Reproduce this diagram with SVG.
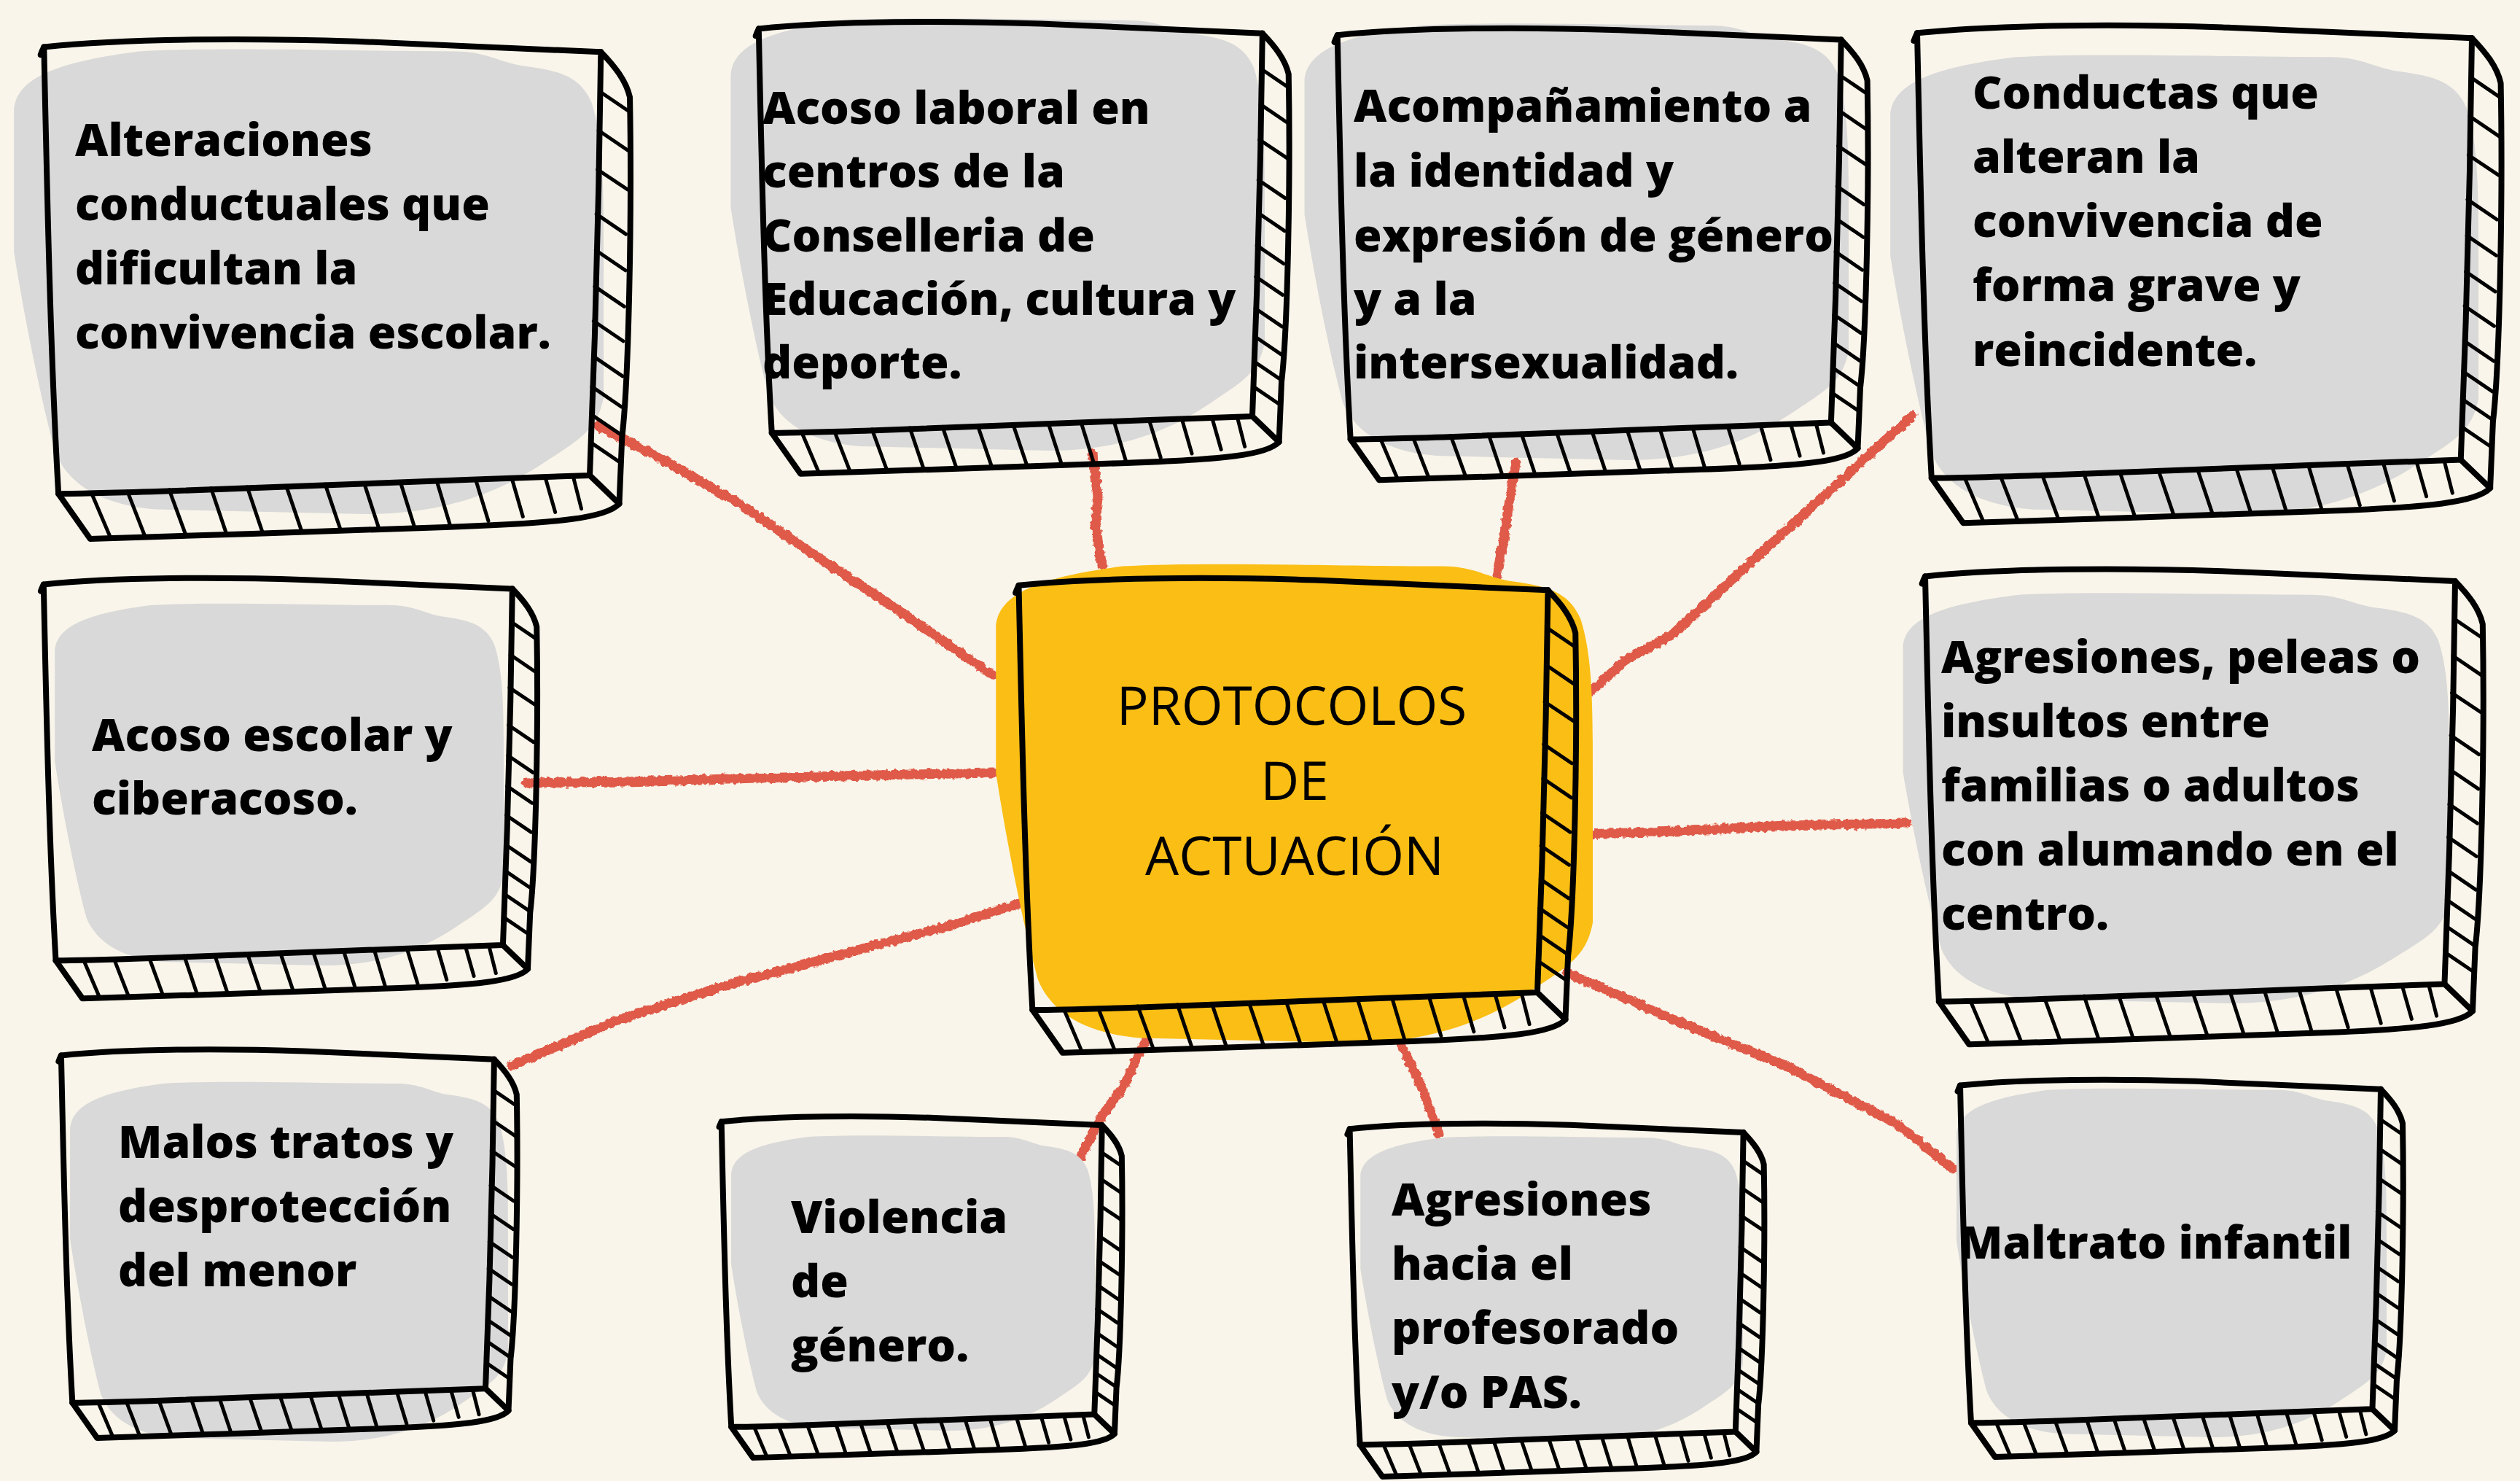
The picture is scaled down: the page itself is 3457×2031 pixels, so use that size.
<svg xmlns="http://www.w3.org/2000/svg" width="3457" height="2031" viewBox="0 0 3457 2031">
<style>
.bg{fill:#F9F5EA}
.blob{fill:#D9D9D9}
.blob-y{fill:#FBBE14}
.ol{fill:none;stroke:#000;stroke-width:8;stroke-linecap:round;stroke-linejoin:round;vector-effect:non-scaling-stroke}
.ht{fill:none;stroke:#000;stroke-width:5;stroke-linecap:round;vector-effect:non-scaling-stroke}
.lbl{font-family:"Open Sans","Noto Sans","DejaVu Sans",sans-serif;font-weight:800;font-size:62.5px;fill:#000}
.ctr{font-family:"Open Sans","Noto Sans","DejaVu Sans",sans-serif;font-weight:400;font-size:73px;fill:#000;text-anchor:middle}
.conn{fill:none;stroke:#E05A48;stroke-width:13;stroke-linecap:round;stroke-linejoin:round}
</style>
<defs>
<filter id="rough" x="-5%" y="-5%" width="110%" height="110%">
<feTurbulence type="fractalNoise" baseFrequency="0.16" numOctaves="2" seed="4" result="n"/>
<feDisplacementMap in="SourceGraphic" in2="n" scale="7" xChannelSelector="R" yChannelSelector="G"/>
</filter>
<path id="blobShape" d="M1,14 C1,6 10,3 22,1 C35,0 60,1 75,1 C80,1 82,3 86,4 C92,5 96,6 98,12 C100,20 100,30 100,45 L100,75 C99,82 96,84 90,89 C84,94 75,100 60,100 L25,99 C15,98 10,93 8,87 C6,78 3,60 1,44 Z"/>
<g id="box">
<path class="ol" d="M0,0 C150,-16 380,-16 560,-10 C720,-4 860,4 1000,9 L996,250 L989,520 L980,769 C720,778 420,790 230,797 C140,800 70,802 26,802 C12,560 6,280 0,0 Z"/>
<path class="ol" d="M1000,9 C1025,35 1045,60 1052,90 C1056,300 1050,600 1038,700 L1033,820 C1010,845 930,855 720,862 C500,870 300,876 83,883 L26,802"/>
<path class="ol" d="M-6,14 C-4,8 -2,4 0,0 M980,769 L1033,820"/>
<path class="ht" d="M998,80 L1051,116 M996,150 L1049,186 M994,220 L1048,256 M992,300 L1045,336 M991,365 L1044,401 M989,430 L1042,466 M987,492 L1040,528 M986,555 L1039,591 M984,610 L1037,646 M983,660 L1036,696 M982,710 L1035,746"/>
<path class="ht" d="M85,800 L120,882 M150,798 L182,880 M225,795 L255,877 M300,792 L328,875 M365,790 L393,873 M435,788 L463,870 M505,785 L533,868 M575,783 L602,866 M640,781 L666,864 M705,778 L730,861 M775,776 L798,851 M840,774 L860,843 M900,772 L918,835 M950,770 L965,829"/>
</g>
</defs>
<rect class="bg" x="0" y="0" width="3457" height="2031"/>
<g id="connectors" filter="url(#rough)">
<path class="conn" d="M820,584 L905,628 L1010,688 L1110,756 L1240,842 L1362,926"/>
<path class="conn" d="M1499,622 L1506,680 L1503,722 L1512,775"/>
<path class="conn" d="M2079,635 L2070,690 L2063,740 L2052,795"/>
<path class="conn" d="M2624,569 L2530,655 L2425,750 L2293,871 L2230,905 L2183,948"/>
<path class="conn" d="M721,1074 L860,1072 L1000,1068 L1150,1064 L1362,1060"/>
<path class="conn" d="M2172,1144 L2300,1140 L2450,1132 L2617,1129"/>
<path class="conn" d="M701,1462 L850,1398 L1000,1350 L1150,1310 L1300,1270 L1411,1235"/>
<path class="conn" d="M1482,1587 L1512,1530 L1541,1490 L1576,1418"/>
<path class="conn" d="M1922,1433 L1950,1490 L1974,1555"/>
<path class="conn" d="M2150,1334 L2300,1400 L2450,1462 L2600,1540 L2632,1565 L2679,1603"/>
</g>
<g id="node-alteraciones">
<use href="#blobShape" class="blob" transform="translate(11,64) scale(8.17,6.41)"/>
<use href="#box" transform="translate(60.3,64.4) scale(0.764)"/>
<text class="lbl"><tspan x="103" y="214">Alteraciones</tspan><tspan x="103" y="302">conductuales que</tspan><tspan x="103" y="390">dificultan la</tspan><tspan x="103" y="478">convivencia escolar.</tspan></text>
</g>
<g id="node-acoso-laboral">
<use href="#blobShape" class="blob" transform="translate(995,22) scale(7.40,5.96)"/>
<use href="#box" transform="translate(1040.8,39.5) scale(0.691)"/>
<text class="lbl"><tspan x="1046" y="170">Acoso laboral en</tspan><tspan x="1046" y="257">centros de la</tspan><tspan x="1046" y="345">Conselleria de</tspan><tspan x="1046" y="432">Educación, cultura y</tspan><tspan x="1046" y="519">deporte.</tspan></text>
</g>
<g id="node-acompanamiento">
<use href="#blobShape" class="blob" transform="translate(1782,29) scale(7.54,6.02)"/>
<use href="#box" transform="translate(1834.7,48.2) scale(0.691)"/>
<text class="lbl"><tspan x="1857" y="167">Acompañamiento a</tspan><tspan x="1857" y="256">la identidad y</tspan><tspan x="1857" y="345">expresión de género</tspan><tspan x="1857" y="432">y a la</tspan><tspan x="1857" y="519">intersexualidad.</tspan></text>
</g>
<g id="node-conductas">
<use href="#blobShape" class="blob" transform="translate(2585,72) scale(8.15,6.33)"/>
<use href="#box" transform="translate(2630,45.3) scale(0.761)"/>
<text class="lbl"><tspan x="2706" y="149">Conductas que</tspan><tspan x="2706" y="237">alteran la</tspan><tspan x="2706" y="325">convivencia de</tspan><tspan x="2706" y="413">forma grave y</tspan><tspan x="2706" y="502">reincidente.</tspan></text>
</g>
<g id="node-acoso-escolar">
<use href="#blobShape" class="blob" transform="translate(69,825) scale(6.22,4.99)"/>
<use href="#box" transform="translate(59.8,801.6) scale(0.643)"/>
<text class="lbl"><tspan x="126" y="1030">Acoso escolar y</tspan><tspan x="126" y="1117">ciberacoso.</tspan></text>
</g>
<g id="node-malos-tratos">
<use href="#blobShape" class="blob" transform="translate(90,1481) scale(6.07,4.96)"/>
<use href="#box" transform="translate(83.9,1447.4) scale(0.594)"/>
<text class="lbl"><tspan x="162" y="1588">Malos tratos y</tspan><tspan x="162" y="1676">desprotección</tspan><tspan x="162" y="1764">del menor</tspan></text>
</g>
<g id="node-violencia">
<use href="#blobShape" class="blob" transform="translate(998,1555) scale(5.04,4.07)"/>
<use href="#box" transform="translate(989.7,1538.2) scale(0.522)"/>
<text class="lbl"><tspan x="1085" y="1691">Violencia</tspan><tspan x="1085" y="1779">de</tspan><tspan x="1085" y="1867">género.</tspan></text>
</g>
<g id="node-agresiones-profesorado">
<use href="#blobShape" class="blob" transform="translate(1861,1556) scale(5.30,4.19)"/>
<use href="#box" transform="translate(1851.6,1548.2) scale(0.540)"/>
<text class="lbl"><tspan x="1909" y="1667">Agresiones</tspan><tspan x="1909" y="1755">hacia el</tspan><tspan x="1909" y="1843">profesorado</tspan><tspan x="1909" y="1931">y/o PAS.</tspan></text>
</g>
<g id="node-agresiones-familias">
<use href="#blobShape" class="blob" transform="translate(2603,810) scale(7.57,5.66)"/>
<use href="#box" transform="translate(2641,790.4) scale(0.727)"/>
<text class="lbl"><tspan x="2663" y="923">Agresiones, peleas o</tspan><tspan x="2663" y="1011">insultos entre</tspan><tspan x="2663" y="1099">familias o adultos</tspan><tspan x="2663" y="1187">con alumando en el</tspan><tspan x="2663" y="1275">centro.</tspan></text>
</g>
<g id="node-maltrato">
<use href="#blobShape" class="blob" transform="translate(2678,1490) scale(5.96,4.81)"/>
<use href="#box" transform="translate(2689,1488.6) scale(0.577)"/>
<text class="lbl" x="2687" y="1726">Maltrato infantil</text>
</g>
<g id="node-protocolos">
<use href="#blobShape" class="blob-y" transform="translate(1358,770) scale(8.27,6.60)"/>
<use href="#box" transform="translate(1397.5,802.8) scale(0.726)"/>
<text class="ctr"><tspan x="1772" y="994">PROTOCOLOS</tspan><tspan x="1776" y="1097">DE</tspan><tspan x="1776" y="1200">ACTUACIÓN</tspan></text>
</g>
</svg>
